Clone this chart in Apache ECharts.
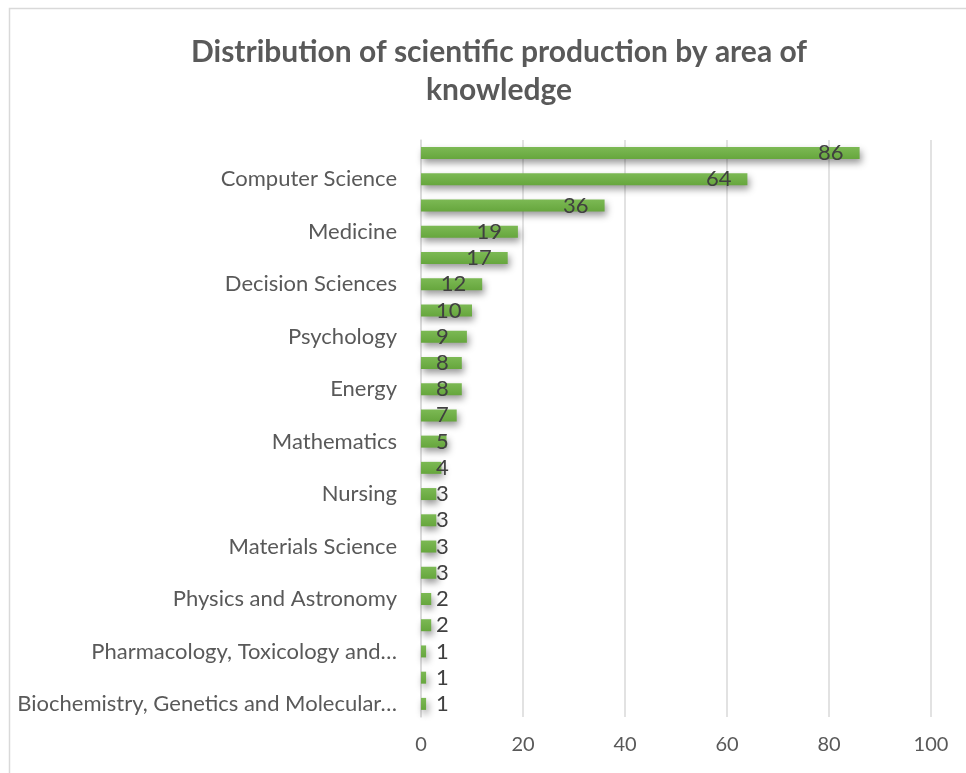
<!DOCTYPE html>
<html>
<head>
<meta charset="utf-8">
<script src="https://cdn.jsdelivr.net/npm/echarts@6/dist/echarts.min.js"></script>
<style>html,body{margin:0;padding:0;background:#fff;}#c{width:966px;height:773px;}</style>
</head>
<body>
<div id="c"></div>
<script>
const titleText = 'Distribution of scientific production by area of\nknowledge';
const categories = [
  'Engineering',
  'Computer Science',
  'Social Sciences',
  'Medicine',
  'Business, Management and Accounting',
  'Decision Sciences',
  'Environmental Science',
  'Psychology',
  'Health Professions',
  'Energy',
  'Arts and Humanities',
  'Mathematics',
  'Economics, Econometrics and Finance',
  'Nursing',
  'Earth and Planetary Sciences',
  'Materials Science',
  'Chemical Engineering',
  'Physics and Astronomy',
  'Agricultural and Biological Sciences',
  'Pharmacology, Toxicology and Pharmaceutics',
  'Multidisciplinary',
  'Biochemistry, Genetics and Molecular Biology'
];
const values = [86, 64, 36, 19, 17, 12, 10, 9, 8, 8, 7, 5, 4, 3, 3, 3, 3, 2, 2, 1, 1, 1];
const xTicks = [0, 20, 40, 60, 80, 100];

const FONT = 'Lato, "Open Sans", sans-serif';
const LABEL_SIZE = 22;
const MAX_LABEL_W = 392;

const measureCtx = document.createElement('canvas').getContext('2d');
function fitWords(text) {
  measureCtx.font = LABEL_SIZE + 'px ' + FONT;
  if (measureCtx.measureText(text).width <= MAX_LABEL_W) return text;
  const words = text.split(' ');
  while (words.length > 1) {
    words.pop();
    const t = words.join(' ') + '…';
    if (measureCtx.measureText(t).width <= MAX_LABEL_W) return t;
  }
  return words[0];
}

const chart = echarts.init(document.getElementById('c'));
const data = values.map(v => ({
  value: v,
  label: v >= 12 ? { position: 'insideRight', distance: 16 } : { position: 'insideLeft', distance: 15 }
}));

function render() {
chart.setOption({
  animation: false,
  backgroundColor: '#ffffff',
  graphic: [{
    type: 'rect',
    shape: { x: 9.5, y: 8.5, width: 1100, height: 1100 },
    style: { fill: 'none', stroke: '#d9d9d9', lineWidth: 1.5 },
    silent: true, z: -1
  }],
  title: {
    text: titleText,
    left: 494,
    top: 28,
    textAlign: 'center',
    textStyle: { fontFamily: FONT, fontSize: 30, fontWeight: 'bold', color: '#595959', lineHeight: 38 }
  },
  grid: { left: 421, right: 35, top: 140, bottom: 56 },
  xAxis: {
    type: 'value',
    min: 0, max: 100, interval: 20,
    axisLine: { show: false },
    axisTick: { show: false },
    splitLine: { show: true, lineStyle: { color: '#d9d9d9', width: 1.5 } },
    axisLabel: {
      fontFamily: FONT, fontSize: 20, color: '#595959', margin: 18,
      formatter: v => xTicks.includes(v) ? String(v) : ''
    }
  },
  yAxis: {
    type: 'category',
    inverse: true,
    data: categories,
    axisLine: { show: true, lineStyle: { color: '#d9d9d9', width: 1.5 } },
    axisTick: { show: false },
    axisLabel: {
      interval: (i) => i % 2 === 1,
      fontFamily: FONT, fontSize: LABEL_SIZE, color: '#595959', margin: 24,
      formatter: (name) => fitWords(name)
    }
  },
  series: [{
    type: 'bar',
    data: data,
    barWidth: 12,
    itemStyle: {
      color: new echarts.graphic.LinearGradient(0, 0, 0, 1, [
        { offset: 0, color: '#7cb954' },
        { offset: 1, color: '#66a63d' }
      ]),
      shadowColor: 'rgba(0,0,0,0.4)',
      shadowBlur: 7,
      shadowOffsetX: 2,
      shadowOffsetY: 4
    },
    label: {
      show: true,
      fontFamily: FONT, fontSize: 22, color: '#404040'
    }
  }]
});
}
if (document.fonts && document.fonts.load) {
  document.fonts.load(LABEL_SIZE + 'px Lato').then(render, render);
} else {
  render();
}
render();
</script>
</body>
</html>
